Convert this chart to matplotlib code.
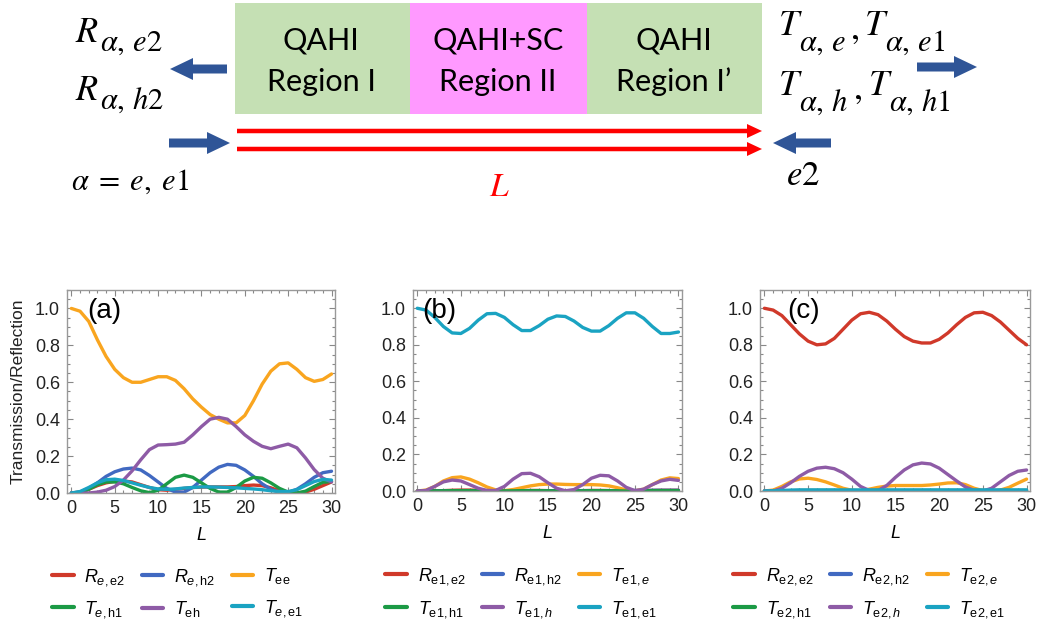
import numpy as np
import matplotlib.pyplot as plt
from matplotlib.patches import Rectangle
from matplotlib.ticker import MultipleLocator

plt.rcParams['font.family'] = ['Liberation Sans', 'DejaVu Sans']
plt.rcParams['mathtext.fontset'] = 'custom'
plt.rcParams['mathtext.rm'] = 'Liberation Sans'
plt.rcParams['mathtext.it'] = 'Liberation Sans:italic'
plt.rcParams['mathtext.bf'] = 'Liberation Sans:bold'

L = np.arange(0, 31)

# (a) incoming alpha = e
a_R_ee2 = [0, 0.005, 0.02, 0.04, 0.055, 0.063, 0.065, 0.06, 0.045, 0.03, 0.018, 0.015, 0.02, 0.025, 0.03, 0.032,
           0.033, 0.033, 0.033, 0.035, 0.04, 0.043, 0.04, 0.028, 0.012, 0.003, 0.0, 0.005, 0.02, 0.04, 0.06]
a_R_eh2 = [0, 0.005, 0.025, 0.055, 0.09, 0.115, 0.13, 0.135, 0.125, 0.095, 0.06, 0.025, 0.005, 0.005, 0.03, 0.07,
           0.11, 0.14, 0.155, 0.15, 0.125, 0.09, 0.05, 0.02, 0.003, 0.003, 0.02, 0.05, 0.085, 0.11, 0.118]
a_T_ee = [1.0, 0.985, 0.93, 0.83, 0.74, 0.67, 0.625, 0.60, 0.60, 0.615, 0.63, 0.63, 0.61, 0.565, 0.51, 0.465,
          0.425, 0.40, 0.38, 0.38, 0.42, 0.50, 0.59, 0.66, 0.70, 0.705, 0.67, 0.625, 0.605, 0.615, 0.645]
a_T_eh1 = [0, 0.003, 0.02, 0.045, 0.06, 0.06, 0.05, 0.03, 0.012, 0.002, 0.015, 0.05, 0.085, 0.097, 0.085, 0.055,
           0.025, 0.005, 0.005, 0.03, 0.065, 0.085, 0.08, 0.055, 0.025, 0.005, 0.0, 0.01, 0.035, 0.058, 0.063]
a_T_eh = [0, 0, 0, 0.005, 0.015, 0.035, 0.07, 0.12, 0.18, 0.235, 0.26, 0.262, 0.265, 0.275, 0.315, 0.36,
          0.40, 0.41, 0.40, 0.36, 0.315, 0.28, 0.253, 0.24, 0.253, 0.265, 0.245, 0.19, 0.127, 0.08, 0.06]
a_T_ee1 = [0, 0.008, 0.03, 0.055, 0.072, 0.075, 0.068, 0.055, 0.042, 0.03, 0.022, 0.02, 0.022, 0.027, 0.03, 0.033,
           0.033, 0.032, 0.03, 0.028, 0.025, 0.022, 0.018, 0.012, 0.008, 0.008, 0.018, 0.04, 0.062, 0.074, 0.07]

# (b) incoming alpha = e1
b_R_e1e2 = [0, 0, 0.001, 0.002, 0.004, 0.005, 0.005, 0.004, 0.002, 0.001, 0, 0.001, 0.002, 0.003, 0.003, 0.002,
            0.001, 0, 0.001, 0.002, 0.003, 0.003, 0.002, 0.001, 0, 0.001, 0.002, 0.003, 0.004, 0.004, 0.004]
b_R_e1h2 = [0, 0, 0, 0.001, 0.001, 0.001, 0.001, 0.001, 0, 0, 0, 0.001, 0.001, 0.001, 0.001, 0.001,
            0.001, 0.001, 0.002, 0.002, 0.002, 0.002, 0.002, 0.002, 0.003, 0.003, 0.003, 0.004, 0.004, 0.004, 0.004]
b_T_e1e = [0, 0.005, 0.025, 0.055, 0.073, 0.077, 0.065, 0.045, 0.022, 0.006, 0.002, 0.008, 0.018, 0.028, 0.035, 0.038,
           0.038, 0.036, 0.035, 0.035, 0.035, 0.033, 0.028, 0.018, 0.006, 0.001, 0.01, 0.035, 0.06, 0.072, 0.068]
b_T_e1h1 = [0, 0, 0.001, 0.001, 0.002, 0.002, 0.002, 0.001, 0.001, 0, 0.001, 0.001, 0.002, 0.002, 0.002, 0.001,
            0.001, 0, 0.001, 0.001, 0.002, 0.002, 0.002, 0.001, 0, 0.001, 0.001, 0.002, 0.002, 0.002, 0.002]
b_T_e1h = [0, 0.003, 0.025, 0.05, 0.06, 0.055, 0.035, 0.015, 0.003, 0.003, 0.025, 0.065, 0.095, 0.097, 0.078, 0.045,
           0.015, 0.001, 0.008, 0.035, 0.07, 0.086, 0.083, 0.055, 0.02, 0.002, 0.01, 0.035, 0.055, 0.064, 0.058]
b_T_e1e1 = [1.0, 0.99, 0.95, 0.90, 0.865, 0.862, 0.89, 0.935, 0.97, 0.972, 0.95, 0.91, 0.878, 0.878, 0.905, 0.94,
            0.958, 0.955, 0.93, 0.895, 0.875, 0.875, 0.905, 0.945, 0.975, 0.975, 0.945, 0.90, 0.862, 0.862, 0.87]

# (c) incoming e2
c_R_e2e2 = [1.0, 0.99, 0.96, 0.91, 0.86, 0.82, 0.80, 0.805, 0.835, 0.885, 0.935, 0.97, 0.978, 0.965, 0.93, 0.885,
            0.845, 0.82, 0.81, 0.81, 0.83, 0.865, 0.91, 0.95, 0.975, 0.978, 0.96, 0.925, 0.88, 0.835, 0.80]
c_R_e2h2 = [0, 0, 0.001, 0.001, 0.002, 0.002, 0.002, 0.002, 0.002, 0.001, 0.001, 0.001, 0.001, 0.001, 0.002, 0.002,
            0.002, 0.002, 0.002, 0.002, 0.002, 0.002, 0.002, 0.001, 0.001, 0.001, 0.001, 0.002, 0.002, 0.002, 0.002]
c_T_e2e = [0, 0.005, 0.025, 0.05, 0.066, 0.07, 0.063, 0.05, 0.033, 0.015, 0.004, 0.002, 0.01, 0.02, 0.027, 0.03,
           0.03, 0.03, 0.03, 0.033, 0.038, 0.044, 0.045, 0.035, 0.015, 0.002, 0.001, 0.005, 0.02, 0.043, 0.065]
c_T_e2h1 = [0, 0, 0.001, 0.002, 0.003, 0.003, 0.003, 0.003, 0.003, 0.002, 0.002, 0.002, 0.002, 0.003, 0.003, 0.003,
            0.003, 0.003, 0.003, 0.003, 0.003, 0.003, 0.003, 0.003, 0.003, 0.003, 0.003, 0.003, 0.003, 0.003, 0.003]
c_T_e2h = [0, 0, 0.015, 0.045, 0.08, 0.108, 0.125, 0.13, 0.122, 0.10, 0.065, 0.025, 0.003, 0.003, 0.03, 0.075,
           0.115, 0.143, 0.153, 0.148, 0.125, 0.09, 0.055, 0.022, 0.004, 0.0, 0.015, 0.05, 0.085, 0.108, 0.115]
c_T_e2e1 = [0, 0.001, 0.003, 0.005, 0.006, 0.006, 0.006, 0.006, 0.006, 0.006, 0.006, 0.006, 0.006, 0.006, 0.006, 0.006,
            0.006, 0.006, 0.006, 0.006, 0.006, 0.006, 0.006, 0.006, 0.006, 0.006, 0.006, 0.006, 0.006, 0.006, 0.006]

colors = ['#d0392a', '#4169c1', '#f9a51f', '#1b9a45', '#8e5ba6', '#1aa3c2']

labels_a = [r'$R_{e,\mathrm{e2}}$', r'$R_{e,\mathrm{h2}}$', r'$T_{\mathrm{ee}}$',
            r'$T_{e,\mathrm{h1}}$', r'$T_{\mathrm{eh}}$', r'$T_{e,\mathrm{e1}}$']
labels_b = [r'$R_{\mathrm{e1,e2}}$', r'$R_{\mathrm{e1,h2}}$', r'$T_{\mathrm{e1,}e}$',
            r'$T_{\mathrm{e1,h1}}$', r'$T_{\mathrm{e1,}h}$', r'$T_{\mathrm{e1,e1}}$']
labels_c = [r'$R_{\mathrm{e2,e2}}$', r'$R_{\mathrm{e2,h2}}$', r'$T_{\mathrm{e2,}e}$',
            r'$T_{\mathrm{e2,h1}}$', r'$T_{\mathrm{e2,}h}$', r'$T_{\mathrm{e2,e1}}$']

fig = plt.figure(figsize=(10.41, 6.27), dpi=100)

# ---- device sketch on top, drawn in pixel units ----
sk = fig.add_axes([0, 0, 1, 1])
sk.set_xlim(0, 1041)
sk.set_ylim(627, 0)
sk.axis('off')

green = '#c5e0b4'
pink = '#ff99ff'
sk.add_patch(Rectangle((235, 3), 175, 111, color=green, lw=0))
sk.add_patch(Rectangle((410, 3), 177, 111, color=pink, lw=0))
sk.add_patch(Rectangle((587, 3), 175, 111, color=green, lw=0))

box_font = dict(fontsize=22, family=['Lato', 'DejaVu Sans'], ha='center', va='baseline')
for xc, top, bot in [(321, 'QAHI', 'Region I'), (498, 'QAHI+SC', 'Region II'), (674, 'QAHI', 'Region I\u2019')]:
    sk.text(xc, 50, top, **box_font)
    sk.text(xc, 91, bot, **box_font)

# red channels under the device
for yy in (131, 149):
    sk.arrow(237, yy, 525, 0, width=4.5, head_width=14, head_length=15,
             length_includes_head=True, color='#ff0000', lw=0)

blue = '#2f5597'
arr = dict(width=9, head_width=22, head_length=23, length_includes_head=True, color=blue, lw=0)
sk.arrow(227, 69, -57, 0, **arr)
sk.arrow(169, 143, 61, 0, **arr)
sk.arrow(917, 67, 60, 0, **arr)
sk.arrow(831, 143, -58, 0, **arr)

# scattering amplitudes: main symbol and subscript set separately
mt = dict(math_fontfamily='stix', va='baseline', ha='left')
big, small = 26, 22
sk.text(75, 42, r'$R$', fontsize=big, **mt)
sk.text(100, 51, r'$\alpha,\,e2$', fontsize=small, **mt)
sk.text(75, 100, r'$R$', fontsize=big, **mt)
sk.text(100, 109, r'$\alpha,\,h2$', fontsize=small, **mt)

sk.text(778, 35, r'$T$', fontsize=big, **mt)
sk.text(799, 51, r'$\alpha,\,e$', fontsize=small, **mt)
sk.text(850, 39, r'$,$', fontsize=big, **mt)
sk.text(864, 35, r'$T$', fontsize=big, **mt)
sk.text(885, 51, r'$\alpha,\,e1$', fontsize=small, **mt)

sk.text(778, 95, r'$T$', fontsize=big, **mt)
sk.text(799, 111, r'$\alpha,\,h$', fontsize=small, **mt)
sk.text(853, 99, r'$,$', fontsize=big, **mt)
sk.text(868, 95, r'$T$', fontsize=big, **mt)
sk.text(889, 111, r'$\alpha,\,h1$', fontsize=small, **mt)

sk.text(71, 190, r'$\alpha\;=\;e,\;e1$', fontsize=22, **mt)
sk.text(786, 185, r'$e2$', fontsize=25, **mt)
sk.text(489, 196, r'$L$', fontsize=24, color='#ff0000', **mt)

# ---- transmission / reflection panels ----
panels = [
    ([0.0644, 0.2137, 0.2574, 0.3238], [a_R_ee2, a_R_eh2, a_T_ee, a_T_eh1, a_T_eh, a_T_ee1], labels_a, '(a)', 0.075, 52),
    ([0.3967, 0.2169, 0.2584, 0.3206], [b_R_e1e2, b_R_e1h2, b_T_e1e, b_T_e1h1, b_T_e1h, b_T_e1e1], labels_b, '(b)', 0.035, 385),
    ([0.7301, 0.2169, 0.2594, 0.3206], [c_R_e2e2, c_R_e2h2, c_T_e2e, c_T_e2h1, c_T_e2h, c_T_e2e1], labels_c, '(c)', 0.10, 733),
]

for rect, series, labels, tag, tagx, legx in panels:
    ax = fig.add_axes(rect)
    lines = []
    for vals, col, lab in zip(series, colors, labels):
        ln, = ax.plot(L, vals, color=col, lw=2.4, label=lab, solid_capstyle='round',
                      solid_joinstyle='round')
        lines.append(ln)
    ax.set_xlim(-0.5, 30.4)
    ax.set_ylim(0, 1.1)
    ax.xaxis.set_major_locator(MultipleLocator(5))
    ax.xaxis.set_minor_locator(MultipleLocator(1))
    ax.yaxis.set_major_locator(MultipleLocator(0.2))
    ax.yaxis.set_minor_locator(MultipleLocator(0.05))
    ax.yaxis.set_major_formatter(plt.FuncFormatter(lambda v, p: f'{v:.1f}'))
    ax.tick_params(which='both', direction='in', top=True, right=True, color='#888888',
                   labelsize=13, labelcolor='#222222', width=0.8)
    ax.tick_params(which='major', length=4, pad=5)
    ax.tick_params(which='minor', length=2)
    for sp in ax.spines.values():
        sp.set_color('#999999')
        sp.set_linewidth(1.0)
    ax.set_xlabel('L', fontsize=13, style='italic', labelpad=7)
    ax.text(tagx, 0.895, tag, transform=ax.transAxes, fontsize=20, ha='left', va='center')
    # row-major legend: reorder for matplotlib's column filling
    order = [0, 3, 1, 4, 2, 5]
    leg = ax.legend([lines[i] for i in order], [labels[i] for i in order], ncol=3, frameon=False,
                    loc='upper left', bbox_to_anchor=(legx / 1041, 1 - 566 / 627),
                    bbox_transform=fig.transFigure, borderpad=0, borderaxespad=0,
                    fontsize=13, handlelength=1.2, handletextpad=0.6, columnspacing=0.9,
                    labelspacing=0.65)
    for h in leg.get_lines():
        h.set_linewidth(3)

fig.text(18 / 1041, 1 - 391 / 627, 'Transmission/Reflection', rotation=90,
         fontsize=12.5, ha='center', va='center', color='#222222')

fig.savefig('out.png', dpi=100)
